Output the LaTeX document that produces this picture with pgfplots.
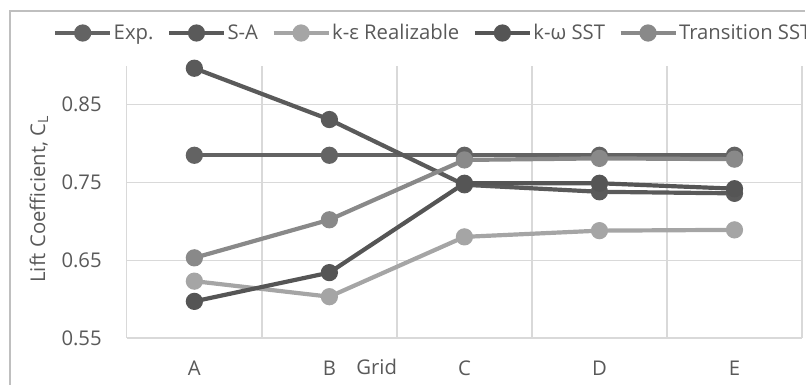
\documentclass[border=0pt]{standalone}
\usepackage{pgfplots}
\pgfplotsset{compat=1.18}
\usepackage{fontspec}
\setmainfont{Open Sans}

\definecolor{txt}{HTML}{595959}
\definecolor{gridc}{HTML}{D9D9D9}
\definecolor{framec}{HTML}{BFBFBF}
\definecolor{cExp}{HTML}{636363}
\definecolor{cSA}{HTML}{5A5A5A}
\definecolor{cKE}{HTML}{A5A5A5}
\definecolor{cKW}{HTML}{555555}
\definecolor{cTR}{HTML}{898989}

\begin{document}
\begin{tikzpicture}
% chart frame (left and top edges) and page extent
\draw[draw=framec, line width=2bp] (10bp,0bp) -- (10bp,374bp) -- (806bp,374bp);
\path[use as bounding box] (0bp,0bp) rectangle (806bp,385bp);
\begin{axis}[
  at={(127bp,46.7bp)}, anchor=south west,
  scale only axis, width=676bp, height=272.3bp,
  xmin=-0.5, xmax=4.5, ymin=0.55, ymax=0.9,
  xtick={0,1,2,3,4}, xticklabels={A,B,C,D,E},
  minor xtick={0.5,1.5,2.5,3.5,4.5},
  ytick={0.55,0.65,0.75,0.85},
  xminorgrids, ymajorgrids,
  grid style={draw=gridc, line width=1.3bp},
  minor grid style={draw=gridc, line width=1.3bp},
  axis lines*=left,
  axis line style={draw=gridc, line width=1.3bp, -},
  major tick length=0pt, minor tick length=0pt,
  tick label style={font=\fontsize{20.3bp}{24bp}\selectfont, text=txt},
  yticklabel style={anchor=east, inner sep=0pt, xshift=-25bp,
    /pgf/number format/.cd, fixed, fixed zerofill, precision=2, assume math mode=true},
  xticklabel style={anchor=base, inner sep=0pt, yshift=-37.7bp},
  xlabel={Grid},
  x label style={at={(axis description cs:0.370,0)}, anchor=base, inner sep=0pt,
    yshift=-36.7bp, font=\fontsize{20.3bp}{24bp}\selectfont, text=txt},
  ylabel={Lift Coefficient, C\textsubscript{L}},
  y label style={at={(axis description cs:-0.1302,0.51)}, anchor=center,
    inner sep=0pt, font=\fontsize{20.3bp}{24bp}\selectfont, text=txt},
  every axis plot/.append style={line width=4.2bp, mark=*, mark size=6.5bp},
  legend columns=5,
  legend image code/.code={\draw[mark repeat=2,mark phase=2,#1]
    plot coordinates {(0bp,0bp) (27.5bp,0bp) (55bp,0bp)};},
  legend style={draw=none, fill=none, inner sep=0pt,
    at={(axis description cs:-0.1095,1.121)}, anchor=west,
    font=\fontsize{20.3bp}{24bp}\selectfont, text=txt,
    nodes={inner sep=1.5bp},
    /tikz/every even column/.append style={column sep=12bp}},
  legend cell align=left,
]
\addplot[color=cExp, mark options={fill=cExp, draw=cExp}] coordinates
  {(0,0.785) (1,0.785) (2,0.785) (3,0.785) (4,0.785)};
\addlegendentry{Exp.}
\addplot[color=cSA, mark options={fill=cSA, draw=cSA}] coordinates
  {(0,0.897) (1,0.831) (2,0.747) (3,0.738) (4,0.736)};
\addlegendentry{S-A}
\addplot[color=cKE, mark options={fill=cKE, draw=cKE}] coordinates
  {(0,0.623) (1,0.603) (2,0.680) (3,0.688) (4,0.689)};
\addlegendentry{k-ε Realizable}
\addplot[color=cKW, mark options={fill=cKW, draw=cKW}] coordinates
  {(0,0.597) (1,0.634) (2,0.749) (3,0.749) (4,0.742)};
\addlegendentry{k-ω SST}
\addplot[color=cTR, mark options={fill=cTR, draw=cTR}] coordinates
  {(0,0.653) (1,0.702) (2,0.779) (3,0.781) (4,0.780)};
\addlegendentry{Transition SST}
\end{axis}
\end{tikzpicture}
\end{document}
